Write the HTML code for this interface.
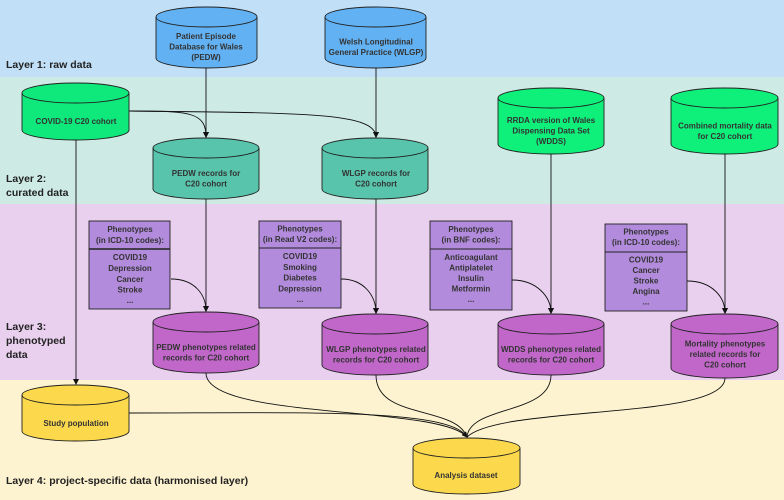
<!DOCTYPE html>
<html><head><meta charset="utf-8"><style>
html,body{margin:0;padding:0;width:784px;height:500px;overflow:hidden;}
svg{display:block;font-family:"Liberation Sans",sans-serif;}
.t{font-size:8px;font-weight:bold;fill:#333;text-anchor:middle;}
.l{font-size:10.5px;font-weight:bold;fill:#222;}
.c{stroke:#222;stroke-width:0.9;}
.ln{fill:none;stroke:#111;stroke-width:0.9;}
</style></head><body>
<svg width="784" height="500" viewBox="0 0 784 500">
<defs><marker id="a" markerWidth="6" markerHeight="6" refX="5" refY="3" orient="auto" markerUnits="userSpaceOnUse"><path d="M0,0 L6,3 L0,6 z" fill="#111"/></marker></defs>
<rect x="0" y="0" width="784" height="77" fill="#c1e0f7"/>
<rect x="0" y="77" width="784" height="127" fill="#cdebe4"/>
<rect x="0" y="204" width="784" height="176" fill="#ead0ef"/>
<rect x="0" y="380" width="784" height="120" fill="#fdf3d0"/>
<text class="l" x="6" y="68">Layer 1: raw data</text>
<text class="l" x="6" y="182">Layer 2:</text>
<text class="l" x="6" y="196">curated data</text>
<text class="l" x="6" y="330">Layer 3:</text>
<text class="l" x="6" y="344">phenotyped</text>
<text class="l" x="6" y="358">data</text>
<text class="l" x="6" y="484">Layer 4: project-specific data (harmonised layer)</text>

<g class="ln">
<path d="M76,140 V384" marker-end="url(#a)"/>
<path d="M206,68 V137" marker-end="url(#a)"/>
<path d="M376,68 V137" marker-end="url(#a)"/>
<path d="M129,111 C190,111 206,112 206,137" marker-end="url(#a)"/>
<path d="M129,111 C300,113 376,112 376,137" marker-end="url(#a)"/>
<path d="M206,199 V311" marker-end="url(#a)"/>
<path d="M376,199 V313" marker-end="url(#a)"/>
<path d="M551,154 V313" marker-end="url(#a)"/>
<path d="M725,154 V313" marker-end="url(#a)"/>
<path d="M171,279 C195,279 206,295 206,311" marker-end="url(#a)"/>
<path d="M341,279 C365,279 376,297 376,313" marker-end="url(#a)"/>
<path d="M512,280 C537,280 551,297 551,313" marker-end="url(#a)"/>
<path d="M687,281 C712,281 725,297 725,313" marker-end="url(#a)"/>
<path d="M206,373 C206,420 440,405 467,437" marker-end="url(#a)"/>
<path d="M376,375 C376,420 455,405 467,437"/>
<path d="M551,375 C551,415 470,405 467,437"/>
<path d="M725,378 C725,420 500,405 467,437"/>
<path d="M129,413 C300,413 450,408 467,437"/>
</g>

<g class="c">
<path fill="#62b1f2" d="M156,17 A50.5,10 0 0 1 257,17 V58 A50.5,10 0 0 1 156,58 Z"/><path fill="none" d="M156,17 A50.5,10 0 0 0 257,17"/>
<path fill="#62b1f2" d="M325,17 A50.5,10 0 0 1 426,17 V58 A50.5,10 0 0 1 325,58 Z"/><path fill="none" d="M325,17 A50.5,10 0 0 0 426,17"/>
<path fill="#0fe87a" d="M22,93 A53.5,10 0 0 1 129,93 V130 A53.5,10 0 0 1 22,130 Z"/><path fill="none" d="M22,93 A53.5,10 0 0 0 129,93"/>
<path fill="#57c4ab" d="M153,148 A53,10 0 0 1 259,148 V189 A53,10 0 0 1 153,189 Z"/><path fill="none" d="M153,148 A53,10 0 0 0 259,148"/>
<path fill="#57c4ab" d="M322,148 A53,10 0 0 1 428,148 V189 A53,10 0 0 1 322,189 Z"/><path fill="none" d="M322,148 A53,10 0 0 0 428,148"/>
<path fill="#0ff07a" d="M498,98 A53,10 0 0 1 604,98 V144 A53,10 0 0 1 498,144 Z"/><path fill="none" d="M498,98 A53,10 0 0 0 604,98"/>
<path fill="#0ff07a" d="M671,98 A53.5,10 0 0 1 778,98 V144 A53.5,10 0 0 1 671,144 Z"/><path fill="none" d="M671,98 A53.5,10 0 0 0 778,98"/>
<path fill="#c067c9" d="M153,322 A53,10 0 0 1 259,322 V363 A53,10 0 0 1 153,363 Z"/><path fill="none" d="M153,322 A53,10 0 0 0 259,322"/>
<path fill="#c067c9" d="M322,324 A53,10 0 0 1 428,324 V365 A53,10 0 0 1 322,365 Z"/><path fill="none" d="M322,324 A53,10 0 0 0 428,324"/>
<path fill="#c067c9" d="M498,324 A53,10 0 0 1 604,324 V365 A53,10 0 0 1 498,365 Z"/><path fill="none" d="M498,324 A53,10 0 0 0 604,324"/>
<path fill="#c067c9" d="M671,324 A53.5,10 0 0 1 778,324 V368 A53.5,10 0 0 1 671,368 Z"/><path fill="none" d="M671,324 A53.5,10 0 0 0 778,324"/>
<path fill="#fbd84c" d="M22,395 A53.5,10 0 0 1 129,395 V431 A53.5,10 0 0 1 22,431 Z"/><path fill="none" d="M22,395 A53.5,10 0 0 0 129,395"/>
<path fill="#fbd84c" d="M413,448 A53.5,10 0 0 1 520,448 V484 A53.5,10 0 0 1 413,484 Z"/><path fill="none" d="M413,448 A53.5,10 0 0 0 520,448"/>
<rect x="89" y="221" width="81" height="88" fill="#b28bdc"/><line x1="89" y1="249" x2="170" y2="249" stroke-width="1.5"/>
<rect x="259" y="221" width="82" height="87" fill="#b28bdc"/><line x1="259" y1="248" x2="341" y2="248"/>
<rect x="430" y="221" width="82" height="89" fill="#b28bdc"/><line x1="430" y1="249" x2="512" y2="249"/>
<rect x="605" y="224" width="82" height="87" fill="#b28bdc"/><line x1="605" y1="252" x2="687" y2="252"/>
</g>

<g class="t">
<text x="206" y="39">Patient Episode</text><text x="206" y="49.5">Database for Wales</text><text x="206" y="60">(PEDW)</text>
<text x="376" y="44.5">Welsh Longitudinal</text><text x="376" y="55">General Practice (WLGP)</text>
<text x="76" y="124">COVID-19 C20 cohort</text>
<text x="206" y="176">PEDW records for</text><text x="206" y="186.5">C20 cohort</text>
<text x="376" y="176">WLGP records for</text><text x="376" y="186.5">C20 cohort</text>
<text x="551" y="123">RRDA version of Wales</text><text x="551" y="133.5">Dispensing Data Set</text><text x="551" y="144">(WDDS)</text>
<text x="725" y="128.5">Combined mortality data</text><text x="725" y="139">for C20 cohort</text>
<text x="206" y="350">PEDW phenotypes related</text><text x="206" y="360.5">records for C20 cohort</text>
<text x="376" y="352">WLGP phenotypes related</text><text x="376" y="362.5">records for C20 cohort</text>
<text x="551" y="352">WDDS phenotypes related</text><text x="551" y="362.5">records for C20 cohort</text>
<text x="725" y="346.5">Mortality phenotypes</text><text x="725" y="357">related records for</text><text x="725" y="367.5">C20 cohort</text>
<text x="76" y="426">Study population</text>
<text x="466" y="478">Analysis dataset</text>

<text x="130" y="232">Phenotypes</text><text x="130" y="243">(in ICD-10 codes):</text>
<text x="130" y="260">COVID19</text><text x="130" y="271">Depression</text><text x="130" y="282">Cancer</text><text x="130" y="292.5">Stroke</text><text x="130" y="303">...</text>
<text x="300" y="231.5">Phenotypes</text><text x="300" y="242">(in Read V2 codes):</text>
<text x="300" y="259">COVID19</text><text x="300" y="270">Smoking</text><text x="300" y="280.5">Diabetes</text><text x="300" y="291.5">Depression</text><text x="300" y="302">...</text>
<text x="471" y="232">Phenotypes</text><text x="471" y="242.5">(in BNF codes):</text>
<text x="471" y="260">Anticoagulant</text><text x="471" y="270.5">Antiplatelet</text><text x="471" y="281">Insulin</text><text x="471" y="291.5">Metformin</text><text x="471" y="302">...</text>
<text x="646" y="234.5">Phenotypes</text><text x="646" y="245">(in ICD-10 codes):</text>
<text x="646" y="262.5">COVID19</text><text x="646" y="273">Cancer</text><text x="646" y="283.5">Stroke</text><text x="646" y="294">Angina</text><text x="646" y="304.5">...</text>
</g>
</svg>
</body></html>
